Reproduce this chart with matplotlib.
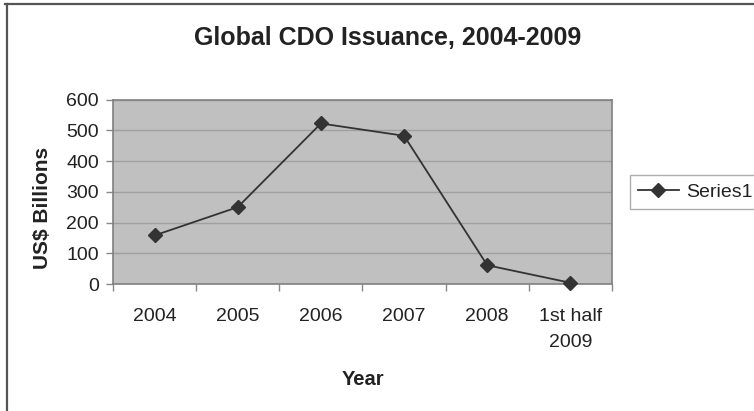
import matplotlib
matplotlib.use("Agg")
import matplotlib.pyplot as plt
from matplotlib.lines import Line2D

plt.rcParams['font.family'] = ['Liberation Sans', 'DejaVu Sans']

# Issuance by year (US$ billions)
years = ["2004", "2005", "2006", "2007", "2008", "1st half\n2009"]
issuance = [158, 250, 522, 482, 61, 4]
y_ticks = [0, 100, 200, 300, 400, 500, 600]
series_name = "Series1"

W, H = 754, 411
fig = plt.figure(figsize=(W / 100, H / 100), dpi=100)
fig.patch.set_facecolor("white")

ax = fig.add_axes([113 / W, 1 - 284 / H, (612 - 113) / W, (284 - 99.5) / H])
ax.set_facecolor("#c0c0c0")

x = list(range(len(years)))
ax.plot(x, issuance, color="#333333", lw=1.3, marker="D", markersize=7,
        markerfacecolor="#333333", markeredgecolor="#333333", label=series_name,
        zorder=3, clip_on=False)

ax.set_xlim(-0.5, len(years) - 0.5)
ax.set_ylim(0, 600)
ax.set_yticks(y_ticks)
ax.set_yticklabels([str(v) for v in y_ticks])
ax.yaxis.grid(True, color="#a0a0a0", lw=1.0)
ax.set_axisbelow(True)

# category labels at centres, tick marks on the boundaries
ax.set_xticks(x)
ax.set_xticklabels(years, linespacing=1.7)
ax.set_xticks([i - 0.5 for i in range(len(years) + 1)], minor=True)
ax.tick_params(axis="x", which="major", length=0, pad=17, labelsize=14, colors="#222222")
ax.tick_params(axis="x", which="minor", length=5, width=1, color="#888888", direction="out")
ax.tick_params(axis="y", length=5, width=1, color="#888888", direction="out", pad=5,
               labelsize=14, labelcolor="#222222")

for s in ax.spines.values():
    s.set_color("#808080")
    s.set_linewidth(1.2)

ax.set_xlabel("Year", fontsize=14.5, fontweight="bold", labelpad=14, color="#222222")
ax.set_ylabel("US$ Billions", fontsize=15, fontweight="bold", color="#222222")
ax.yaxis.set_label_coords(52 / W, 1 - 208 / H, transform=fig.transFigure)

fig.text(388 / W, 1 - 38 / H, "Global CDO Issuance, 2004-2009", ha="center", va="center",
         fontsize=18, fontweight="bold", color="#222222")

leg = ax.legend(loc="center left", bbox_to_anchor=(630 / W, 1 - 192 / H),
                bbox_transform=fig.transFigure, frameon=True, fancybox=False,
                fontsize=14, handlelength=2.1, handletextpad=0.4, borderpad=0.4,
                borderaxespad=0)
leg.get_frame().set_edgecolor("#999999")
leg.get_frame().set_linewidth(1.0)
for t in leg.get_texts():
    t.set_color("#222222")

# chart-area border (top and left edges)
fig.add_artist(Line2D([5 / W, 1], [1 - 4.5 / H, 1 - 4.5 / H], color="#555555", lw=1.6,
                      transform=fig.transFigure))
fig.add_artist(Line2D([7 / W, 7 / W], [0, 1 - 4.5 / H], color="#555555", lw=1.6,
                      transform=fig.transFigure))

fig.savefig("out.png", dpi=100)
